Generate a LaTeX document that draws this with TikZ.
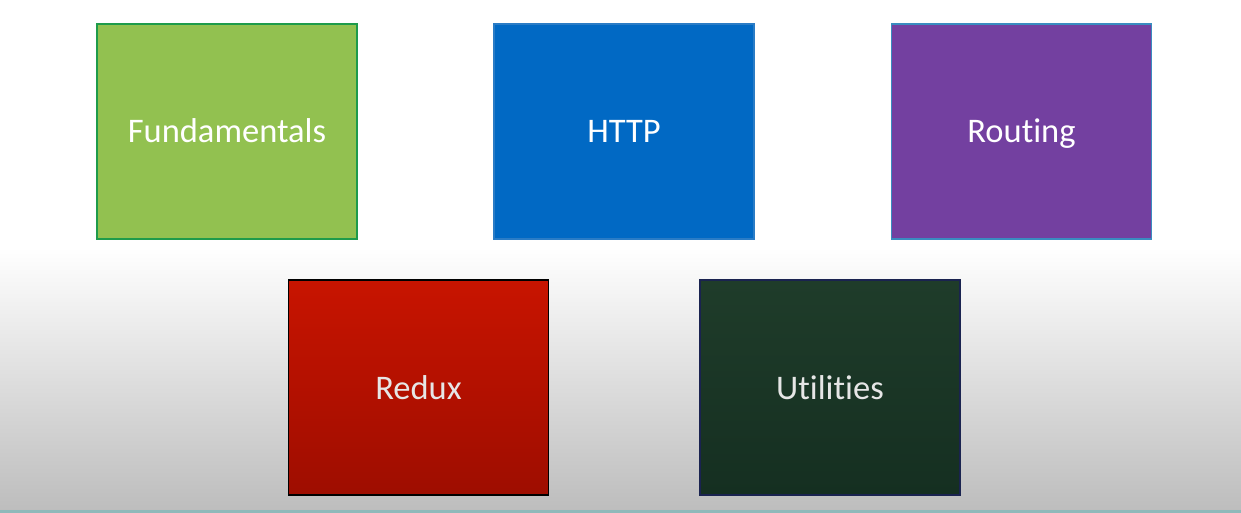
\documentclass[tikz,border=0pt]{standalone}
\usepackage{fontspec}
\setmainfont{Carlito}[Ligatures=NoCommon]
\definecolor{fgreen}{HTML}{92C150}
\definecolor{bgreen}{HTML}{1E9B4B}
\definecolor{fblue}{HTML}{0169C4}
\definecolor{bblue}{HTML}{2A7CC6}
\definecolor{fpurple}{HTML}{7340A0}
\definecolor{bpurple}{HTML}{3A8CC0}
\definecolor{redtop}{HTML}{C81400}
\definecolor{redbot}{HTML}{9E0D00}
\definecolor{dgtop}{HTML}{1F3C2A}
\definecolor{dgbot}{HTML}{152F21}
\definecolor{bnavy}{HTML}{1A2350}
\definecolor{bggray}{HTML}{BDBDBD}
\definecolor{lineteal}{HTML}{8FB9BA}
\definecolor{txtlight}{HTML}{E6E6E6}
\begin{document}
\begin{tikzpicture}[x=1pt,y=-1pt,
  card/.style={minimum width=260pt,minimum height=215pt,inner sep=0pt,
    text height=26pt,text depth=3pt,
    line width=1.6pt,font=\fontsize{34.5}{40}\selectfont},
  toprow/.style={card,text=white},
  botrow/.style={card,text=txtlight}]
\useasboundingbox (0,0) rectangle (1241,513);
\fill[white] (0,0) rectangle (1241,513);
\shade[top color=white,bottom color=bggray] (0,248) rectangle (1241,510);
\fill[lineteal] (0,510) rectangle (1241,513);
\node[toprow,fill=fgreen,draw=bgreen] (fund) at (227,131.5) {Fundamentals};
\node[toprow,fill=fblue,draw=bblue] (http) at (624,131.5) {HTTP};
\node[toprow,fill=fpurple,draw=bpurple] (rout) at (1021.5,131.5) {Routing};
\node[botrow,top color=redtop,bottom color=redbot,draw=black] (redux) at (418.5,387.5) {Redux};
\node[botrow,top color=dgtop,bottom color=dgbot,draw=bnavy] (util) at (830,387.5) {Utilities};
\end{tikzpicture}
\end{document}
